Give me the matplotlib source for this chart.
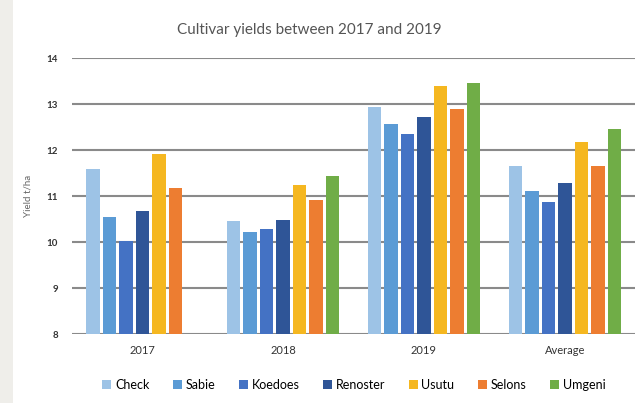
import matplotlib
matplotlib.use("Agg")
import matplotlib.pyplot as plt
import numpy as np

categories = ["2017", "2018", "2019", "Average"]
cultivars = ["Check", "Sabie", "Koedoes", "Renoster", "Usutu", "Selons", "Umgeni"]
check = [11.59, 10.45, 12.93, 11.65]
sabie = [10.54, 10.21, 12.56, 11.10]
koedoes = [10.03, 10.28, 12.34, 10.88]
renoster = [10.67, 10.48, 12.71, 11.28]
usutu = [11.92, 11.25, 13.40, 12.18]
selons = [11.17, 10.91, 12.89, 11.65]
umgeni = [np.nan, 11.44, 13.46, 12.45]
series = [check, sabie, koedoes, renoster, usutu, selons, umgeni]
colors = ["#9DC3E6", "#5B9BD5", "#4472C4", "#2F5597", "#F5B720", "#ED7D31", "#70AD47"]
yticks = [8, 9, 10, 11, 12, 13, 14]

plt.rcParams['font.family'] = ['Lato', 'DejaVu Sans']
fig = plt.figure(figsize=(6.4, 4.03), dpi=100)
# faint page-edge shade on the left
fig.patches.append(plt.Rectangle((0, 0), 0.02, 1, transform=fig.transFigure,
                                 facecolor="#efeeea", edgecolor="none", zorder=0))
ax = fig.add_axes([0.1125, 0.171, 0.88, 0.685])

x = np.arange(len(categories))
n = len(series)
slot = 0.82 / n
bw = slot * 0.82
for i, (vals, c, name) in enumerate(zip(series, colors, cultivars)):
    off = (i - (n - 1) / 2) * slot
    ax.bar(x + off, vals, width=bw, bottom=0, color=c, label=name, zorder=3)

ax.set_ylim(8, 14)
ax.set_xlim(-0.5, 3.5)
ax.set_yticks(yticks)
ax.set_yticklabels([str(v) for v in yticks], fontsize=7, color="#333333", fontweight="bold")
ax.set_xticks(x)
ax.set_xticklabels(categories, fontsize=8, color="#333333")
ax.tick_params(length=0, pad=8)
ax.tick_params(axis='y', pad=10)
ax.grid(axis='y', color="#8a8a8a", linewidth=1.5, zorder=0)
for s in ax.spines.values():
    s.set_visible(False)
ax.set_ylabel("Yield t/ha", fontsize=7, color="#666666", labelpad=10)

fig.text(0.483, 0.925, "Cultivar yields between 2017 and 2019", ha="center", va="center",
         fontsize=11, color="#555555")

handles, labels = ax.get_legend_handles_labels()
fig.legend(handles, labels, loc="center", bbox_to_anchor=(0.553, 0.045), ncol=7,
           frameon=False, fontsize=9, handlelength=0.7, handleheight=0.7,
           handletextpad=0.3, columnspacing=1.9)

fig.savefig("out.png", dpi=100)
